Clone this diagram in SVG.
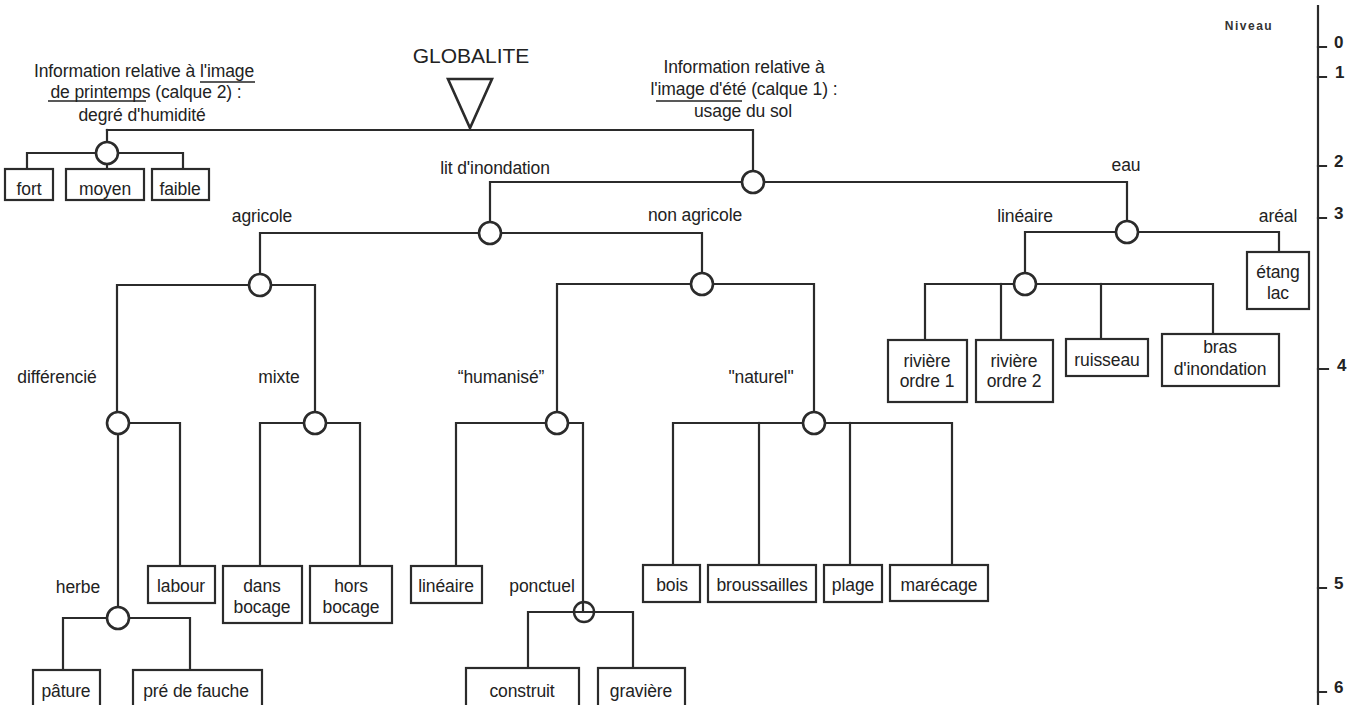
<svg xmlns="http://www.w3.org/2000/svg" width="1359" height="705" viewBox="0 0 1359 705">
<style>
.ln{stroke:#2b2b2b;stroke-width:2.2;fill:none;stroke-linecap:square}
.bx{stroke:#2b2b2b;stroke-width:2.2;fill:#fff}
.nd{stroke:#2b2b2b;stroke-width:2.6;fill:#fff}
.t{font-family:"Liberation Sans",Arial,sans-serif;font-size:17.5px;fill:#222;text-anchor:middle;letter-spacing:-0.1px}
.d{font-family:"Liberation Sans",Arial,sans-serif;font-size:17px;font-weight:bold;fill:#222}
.ul{stroke:#222;stroke-width:1.4}
</style>
<rect width="1359" height="705" fill="#fff"/>

<g id="connectors">
  <path class="ln" d="M107 130 H753 V182"/>
  <path class="ln" d="M107 130 V153"/>
  <path class="ln" d="M27 169 V153 H183 V169"/>
  <path class="ln" d="M107 153 V169"/>
  <path class="ln" d="M490 233 V182 H1127 V232"/>
  <path class="ln" d="M260 285 V233 H702 V284"/>
  <path class="ln" d="M117 423 V285 H315 V423"/>
  <path class="ln" d="M118 423 V618"/>
  <path class="ln" d="M118 423 H180 V566"/>
  <path class="ln" d="M63 670 V618 H190 V670"/>
  <path class="ln" d="M260 566 V423 H360 V566"/>
  <path class="ln" d="M557 423 V284 H814 V423"/>
  <path class="ln" d="M456 566 V423 H583 V612"/>
  <path class="ln" d="M528 668 V612 H633 V668"/>
  <path class="ln" d="M673 565 V423 H952 V565"/>
  <path class="ln" d="M759 423 V565"/>
  <path class="ln" d="M850 423 V565"/>
  <path class="ln" d="M1025 284 V232 H1279 V252"/>
  <path class="ln" d="M925 340 V284 H1213 V334"/>
  <path class="ln" d="M1001 284 V340"/>
  <path class="ln" d="M1101 284 V339"/>
</g>

<g id="globalite">
  <text class="t" x="471" y="63" style="font-size:21px;letter-spacing:0">GLOBALITE</text>
  <polygon points="448,79 492,79 470,128" fill="none" stroke="#2b2b2b" stroke-width="2.6" stroke-linejoin="miter"/>
</g>

<g id="info-printemps">
  <text class="t" x="144" y="77">Information relative à l'image</text>
  <text class="t" x="146" y="98">de printemps  (calque 2) :</text>
  <text class="t" x="142" y="121">degré d'humidité</text>
  <line class="ul" x1="200" y1="82" x2="255" y2="82"/>
  <line class="ul" x1="48" y1="101" x2="146" y2="101"/>
</g>

<g id="info-ete">
  <text class="t" x="744" y="73">Information relative à</text>
  <text class="t" x="744" y="95">l'image d'été (calque 1) :</text>
  <text class="t" x="743" y="117">usage du sol</text>
  <line class="ul" x1="656" y1="101" x2="742" y2="101"/>
</g>

<g id="n-humidite"><circle class="nd" cx="107" cy="153" r="11"/></g>
<g id="n-fort"><rect class="bx" x="5" y="169" width="48" height="31"/><text class="t" x="29" y="195">fort</text></g>
<g id="n-moyen"><rect class="bx" x="66" y="169" width="78" height="31"/><text class="t" x="105" y="195">moyen</text></g>
<g id="n-faible"><rect class="bx" x="152" y="169" width="57" height="31"/><text class="t" x="180" y="195">faible</text></g>

<g id="n-usage"><circle class="nd" cx="753" cy="182" r="11"/></g>

<g id="n-lit"><text class="t" x="495" y="174">lit d'inondation</text><circle class="nd" cx="490" cy="233" r="11"/></g>
<g id="n-eau"><text class="t" x="1126" y="171">eau</text><circle class="nd" cx="1127" cy="232" r="11"/></g>

<g id="n-agricole"><text class="t" x="262" y="222">agricole</text><circle class="nd" cx="260" cy="285" r="11"/></g>
<g id="n-nonagricole"><text class="t" x="695" y="221">non agricole</text><circle class="nd" cx="702" cy="284" r="11"/></g>
<g id="n-lineaire-eau"><text class="t" x="1025" y="222">linéaire</text><circle class="nd" cx="1025" cy="284" r="11"/></g>
<g id="n-areal"><text class="t" x="1278" y="222">aréal</text></g>
<g id="n-etang"><rect class="bx" x="1247" y="252" width="62" height="57"/><text class="t" x="1278" y="278">étang</text><text class="t" x="1278" y="299">lac</text></g>

<g id="n-riviere1"><rect class="bx" x="888" y="340" width="79" height="62"/><text class="t" x="927" y="367">rivière</text><text class="t" x="927" y="387">ordre 1</text></g>
<g id="n-riviere2"><rect class="bx" x="976" y="340" width="77" height="62"/><text class="t" x="1014" y="367">rivière</text><text class="t" x="1014" y="387">ordre 2</text></g>
<g id="n-ruisseau"><rect class="bx" x="1066" y="339" width="82" height="37"/><text class="t" x="1107" y="366">ruisseau</text></g>
<g id="n-bras"><rect class="bx" x="1162" y="334" width="117" height="52"/><text class="t" x="1220" y="353">bras</text><text class="t" x="1220" y="375">d'inondation</text></g>

<g id="n-differencie"><text class="t" x="57" y="383">différencié</text><circle class="nd" cx="118" cy="423" r="11"/></g>
<g id="n-mixte"><text class="t" x="279" y="383">mixte</text><circle class="nd" cx="315" cy="423" r="11"/></g>
<g id="n-humanise"><text class="t" x="501" y="383">“humanisé”</text><circle class="nd" cx="557" cy="423" r="11"/></g>
<g id="n-naturel"><text class="t" x="761" y="383">"naturel"</text><circle class="nd" cx="814" cy="423" r="11"/></g>

<g id="n-herbe"><text class="t" x="78" y="593">herbe</text><circle class="nd" cx="118" cy="618" r="11"/></g>
<g id="n-labour"><rect class="bx" x="148" y="566" width="67" height="37"/><text class="t" x="181" y="592">labour</text></g>
<g id="n-dans"><rect class="bx" x="223" y="566" width="79" height="57"/><text class="t" x="262" y="592">dans</text><text class="t" x="262" y="613">bocage</text></g>
<g id="n-hors"><rect class="bx" x="310" y="566" width="82" height="57"/><text class="t" x="351" y="592">hors</text><text class="t" x="351" y="613">bocage</text></g>
<g id="n-lineaire"><rect class="bx" x="411" y="566" width="71" height="37"/><text class="t" x="446" y="592">linéaire</text></g>
<g id="n-ponctuel"><text class="t" x="542" y="592">ponctuel</text><circle cx="584" cy="612" r="10" fill="none" stroke="#2b2b2b" stroke-width="2.4"/></g>
<g id="n-bois"><rect class="bx" x="643" y="565" width="57" height="37"/><text class="t" x="672" y="591">bois</text></g>
<g id="n-broussailles"><rect class="bx" x="708" y="565" width="108" height="37"/><text class="t" x="762" y="591">broussailles</text></g>
<g id="n-plage"><rect class="bx" x="824" y="565" width="58" height="37"/><text class="t" x="853" y="591">plage</text></g>
<g id="n-marecage"><rect class="bx" x="890" y="565" width="98" height="36"/><text class="t" x="939" y="591">marécage</text></g>

<g id="n-pature"><rect class="bx" x="33" y="670" width="67" height="45"/><text class="t" x="66" y="697">pâture</text></g>
<g id="n-pre"><rect class="bx" x="133" y="670" width="129" height="45"/><text class="t" x="196" y="697">pré de fauche</text></g>
<g id="n-construit"><rect class="bx" x="466" y="668" width="113" height="47"/><text class="t" x="522" y="697">construit</text></g>
<g id="n-graviere"><rect class="bx" x="598" y="668" width="87" height="47"/><text class="t" x="641" y="697">gravière</text></g>

<g id="axis">
  <text x="1249" y="30" style="font-family:'Liberation Sans',Arial,sans-serif;font-size:12px;font-weight:bold;fill:#333;text-anchor:middle;letter-spacing:1.5px">Niveau</text>
  <line class="ln" x1="1318" y1="6" x2="1318" y2="705"/>
  <path class="ln" d="M1318 47 H1326 M1318 77 H1326 M1318 166 H1326 M1318 218 H1326 M1318 369 H1328 M1318 588 H1326 M1318 692 H1326"/>
  <text class="d" x="1334" y="48">0</text>
  <text class="d" x="1335" y="78">1</text>
  <text class="d" x="1334" y="167">2</text>
  <text class="d" x="1334" y="219">3</text>
  <text class="d" x="1337" y="371">4</text>
  <text class="d" x="1334" y="589">5</text>
  <text class="d" x="1334" y="693">6</text>
</g>
</svg>
